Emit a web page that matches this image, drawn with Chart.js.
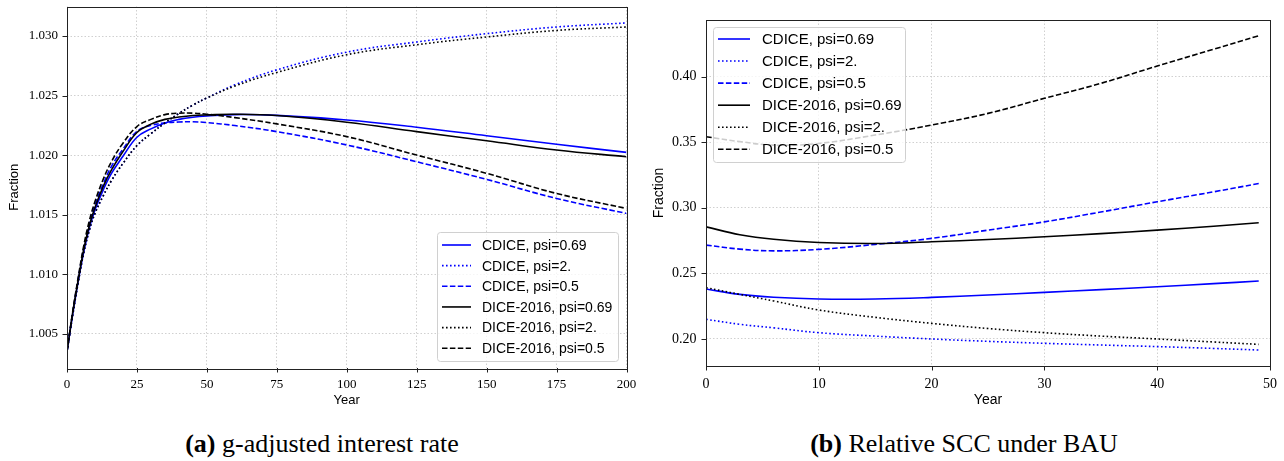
<!DOCTYPE html>
<html>
<head>
<meta charset="utf-8">
<script src="https://cdn.jsdelivr.net/npm/chart.js@4.4.1/dist/chart.umd.min.js"></script>
<style>
	html, body { margin: 0; padding: 0; background: #fff; }
	#page { position: relative; width: 1284px; height: 461px; overflow: hidden; }
	canvas { position: absolute; top: 0; }
	.cap {
		position: absolute;
		top: 429px;
		font-family: "Liberation Serif", serif;
		font-size: 26px;
		line-height: 30px;
		white-space: nowrap;
		transform: translateX(-50%);
		color: #000;
	}
</style>
</head>
<body>
<div id="page">
	<canvas id="chartA" width="640" height="420" style="left:0; width:640px; height:420px"></canvas>
	<canvas id="chartB" width="644" height="420" style="left:640px; width:644px; height:420px"></canvas>
	<div class="cap" style="left:322px"><b>(a)</b> g-adjusted interest rate</div>
	<div class="cap" style="left:964px"><b>(b)</b> Relative SCC under BAU</div>
</div>
<script>
// (a) g-adjusted interest rate
const yearsA = [0, 2, 4, 6, 8, 10, 13, 16, 20, 25, 30, 35, 40, 45, 50, 60, 75, 100, 125, 150, 175, 200];
const cdice069A = [1.0035, 1.0066, 1.0094, 1.0119, 1.0139, 1.0154, 1.0171, 1.0185, 1.0199, 1.0215, 1.0222, 1.0227, 1.0230, 1.02318, 1.02328, 1.0234, 1.02334, 1.02295, 1.02234, 1.02163, 1.02091, 1.02023];
const cdice2A = [1.0035, 1.0065, 1.0093, 1.0118, 1.0137, 1.0151, 1.0166, 1.0179, 1.0193, 1.0208, 1.0218, 1.0227, 1.0235, 1.0242, 1.0248, 1.0259, 1.02716, 1.02865, 1.0295, 1.0302, 1.03076, 1.0311];
const cdice05A = [1.0035, 1.0067, 1.0096, 1.0122, 1.0142, 1.0158, 1.0176, 1.0191, 1.0205, 1.0220, 1.0225, 1.0227, 1.02278, 1.0228, 1.02273, 1.02248, 1.02197, 1.02085, 1.01944, 1.01796, 1.01636, 1.0151];
const dice069A = [1.0035, 1.0067, 1.0095, 1.0121, 1.0141, 1.0156, 1.0174, 1.0188, 1.0203, 1.0219, 1.0226, 1.0230, 1.0232, 1.02333, 1.02338, 1.02343, 1.02332, 1.02276, 1.02197, 1.02121, 1.02043, 1.01986];
const dice2A = [1.0035, 1.0065, 1.0093, 1.0118, 1.0137, 1.0151, 1.0166, 1.0179, 1.0193, 1.0208, 1.0218, 1.0227, 1.0235, 1.0242, 1.0248, 1.0258, 1.02694, 1.02843, 1.02927, 1.02992, 1.03047, 1.03076];
const dice05A = [1.0035, 1.0068, 1.0097, 1.0124, 1.0145, 1.0161, 1.0180, 1.0195, 1.0210, 1.0224, 1.0230, 1.0234, 1.02352, 1.02352, 1.02343, 1.02315, 1.02262, 1.02155, 1.0200, 1.01847, 1.01678, 1.01552];
const xTicksA = [0, 25, 50, 75, 100, 125, 150, 175, 200];
const yTicksA = [1.005, 1.010, 1.015, 1.020, 1.025, 1.030];

// (b) Relative SCC under BAU
const yearsB = [0, 3, 6, 10, 15, 20, 25, 30, 35, 40, 45, 49];
const cdice069B = [0.2381, 0.2340, 0.2318, 0.2305, 0.2305, 0.2317, 0.2335, 0.2355, 0.2376, 0.2398, 0.2422, 0.2442];
const cdice2B = [0.2150, 0.2112, 0.2085, 0.2048, 0.2022, 0.2000, 0.1982, 0.1967, 0.1954, 0.1942, 0.1928, 0.1916];
const cdice05B = [0.2716, 0.2685, 0.2672, 0.2683, 0.2721, 0.2767, 0.2830, 0.2893, 0.2968, 0.3046, 0.3122, 0.3185];
const dice069B = [0.2855, 0.2795, 0.2760, 0.2736, 0.2728, 0.2741, 0.2758, 0.2779, 0.2803, 0.2830, 0.2860, 0.2886];
const dice2B = [0.2391, 0.2340, 0.2290, 0.2221, 0.2165, 0.2119, 0.2080, 0.2048, 0.2022, 0.2000, 0.1977, 0.1959];
const dice05B = [0.3542, 0.3505, 0.3478, 0.3491, 0.3555, 0.3631, 0.3720, 0.3835, 0.3949, 0.4081, 0.4209, 0.4312];
const xTicksB = [0, 10, 20, 30, 40, 50];
const yTicksB = [0.20, 0.25, 0.30, 0.35, 0.40];

const seriesLabels = ["CDICE, psi=0.69", "CDICE, psi=2.", "CDICE, psi=0.5", "DICE-2016, psi=0.69", "DICE-2016, psi=2.", "DICE-2016, psi=0.5"];

const BLUE = "#0000ff";
const BLACK = "#000000";
const DOTTED = [1.6, 2.4];
const DASHED = [5.5, 2.4];
const seriesStyle = [
	{ color: BLUE, dash: [] },
	{ color: BLUE, dash: DOTTED },
	{ color: BLUE, dash: DASHED },
	{ color: BLACK, dash: [] },
	{ color: BLACK, dash: DOTTED },
	{ color: BLACK, dash: DASHED },
];

const makeDatasets = (years, series) =>
	series.map((vals, i) => ({
		label: seriesLabels[i],
		data: years.map((yr, k) => ({ x: yr, y: vals[k] })),
		borderColor: seriesStyle[i].color,
		backgroundColor: seriesStyle[i].color,
		borderDash: seriesStyle[i].dash,
		borderWidth: 1.6,
		pointRadius: 0,
		fill: false,
		tension: 0.4,
		order: series.length - i,
	}));

// matplotlib-like box around the axes plus outward tick marks
const framePlugin = {
	id: "frame",
	afterDatasetsDraw(chart) {
		const { ctx, chartArea: a, scales } = chart;
		ctx.save();
		ctx.strokeStyle = "#222";
		ctx.lineWidth = 1;
		ctx.setLineDash([]);
		ctx.strokeRect(Math.round(a.left) + 0.5, Math.round(a.top) + 0.5,
			Math.round(a.right - a.left), Math.round(a.bottom - a.top));
		ctx.beginPath();
		scales.x.ticks.forEach((t) => {
			const px = Math.round(scales.x.getPixelForValue(t.value)) + 0.5;
			ctx.moveTo(px, a.bottom);
			ctx.lineTo(px, a.bottom + 4.5);
		});
		scales.y.ticks.forEach((t) => {
			const py = Math.round(scales.y.getPixelForValue(t.value)) + 0.5;
			ctx.moveTo(a.left, py);
			ctx.lineTo(a.left - 4.5, py);
		});
		ctx.stroke();
		ctx.restore();
	},
};

// legend drawn as a semi-transparent box like matplotlib's
const boxLegendPlugin = {
	id: "boxLegend",
	afterDraw(chart, args, opts) {
		const { ctx } = chart;
		const [bx, by, bw, bh] = opts.box;
		ctx.save();
		ctx.beginPath();
		ctx.roundRect(bx + 0.5, by + 0.5, bw, bh, 3);
		ctx.fillStyle = "rgba(255,255,255,0.8)";
		ctx.fill();
		ctx.strokeStyle = "#d0d0d0";
		ctx.lineWidth = 1;
		ctx.stroke();
		ctx.font = opts.font;
		ctx.textBaseline = "middle";
		ctx.textAlign = "left";
		chart.data.datasets.forEach((ds, i) => {
			const y = opts.row0 + i * opts.gap;
			ctx.beginPath();
			ctx.setLineDash(ds.borderDash);
			ctx.strokeStyle = ds.borderColor;
			ctx.lineWidth = ds.borderWidth;
			ctx.moveTo(opts.sample[0], y);
			ctx.lineTo(opts.sample[1], y);
			ctx.stroke();
			ctx.setLineDash([]);
			ctx.fillStyle = "#000";
			ctx.fillText(ds.label, opts.textX, y + 1);
		});
		ctx.restore();
	},
};

const buildChart = (id, c) => {
	const gridColor = "#c4c4c4";
	new Chart(document.getElementById(id), {
		type: "line",
		data: { datasets: makeDatasets(c.years, c.series) },
		plugins: [framePlugin, boxLegendPlugin],
		options: {
			responsive: false,
			animation: false,
			devicePixelRatio: 1,
			layout: { padding: { top: c.padTop, right: c.padRight, left: 0, bottom: 0 } },
			plugins: {
				legend: { display: false },
				tooltip: { enabled: false },
				boxLegend: c.legend,
			},
			scales: {
				x: {
					type: "linear",
					min: c.xMin,
					max: c.xMax,
					afterBuildTicks: (s) => { s.ticks = c.xTicks.map((v) => ({ value: v })); },
					afterFit: (s) => { s.height = c.xHeight; s.paddingLeft = 0; s.paddingRight = 0; },
					ticks: {
						autoSkip: false,
						maxRotation: 0,
						padding: c.tickPad,
						color: "#000",
						font: { family: "Liberation Serif", size: c.tickSize },
						callback: (v) => String(v),
					},
					grid: { color: gridColor, lineWidth: 0.8, drawTicks: false },
					border: { display: false, dash: [1.5, 2] },
					title: {
						display: true,
						text: "Year",
						color: "#000",
						font: { family: "Liberation Sans", size: c.titleSize },
						padding: { top: 0, bottom: c.xTitlePad },
					},
				},
				y: {
					type: "linear",
					min: c.yMin,
					max: c.yMax,
					afterBuildTicks: (s) => { s.ticks = c.yTicks.map((v) => ({ value: v })); },
					afterFit: (s) => { s.width = c.yWidth; s.paddingTop = 0; s.paddingBottom = 0; },
					ticks: {
						padding: c.tickPad,
						color: "#000",
						font: { family: "Liberation Serif", size: c.tickSize },
						callback: (v) => v.toFixed(c.decimals),
					},
					grid: { color: gridColor, lineWidth: 0.8, drawTicks: false },
					border: { display: false, dash: [1.5, 2] },
					title: {
						display: true,
						text: "Fraction",
						color: "#000",
						font: { family: "Liberation Sans", size: c.titleSize },
						padding: { top: c.yTitlePad, bottom: 0 },
					},
				},
			},
		},
	});
};

buildChart("chartA", {
	years: yearsA,
	series: [cdice069A, cdice2A, cdice05A, dice069A, dice2A, dice05A],
	xMin: 0, xMax: 200, xTicks: xTicksA,
	yMin: 1.00212, yMax: 1.03248, yTicks: yTicksA, decimals: 3,
	padTop: 6.5, padRight: 13.5, yWidth: 67, xHeight: 52,
	tickPad: 9, tickSize: 13, titleSize: 13, xTitlePad: 12, yTitlePad: 7,
	legend: {
		box: [437, 232, 181, 129],
		row0: 245, gap: 20.65,
		sample: [442, 471], textX: 482,
		font: "14px 'Liberation Sans'",
	},
});

buildChart("chartB", {
	years: yearsB,
	series: [cdice069B, cdice2B, cdice05B, dice069B, dice2B, dice05B],
	xMin: 0, xMax: 50, xTicks: xTicksB,
	yMin: 0.1794, yMax: 0.4432, yTicks: yTicksB, decimals: 2,
	padTop: 20, padRight: 14, yWidth: 66, xHeight: 54,
	tickPad: 9.5, tickSize: 14, titleSize: 14, xTitlePad: 11.5, yTitlePad: 10.5,
	legend: {
		box: [73, 27, 192, 135],
		row0: 39, gap: 22.06,
		sample: [78, 110], textX: 122,
		font: "15px 'Liberation Sans'",
	},
});
</script>
</body>
</html>
